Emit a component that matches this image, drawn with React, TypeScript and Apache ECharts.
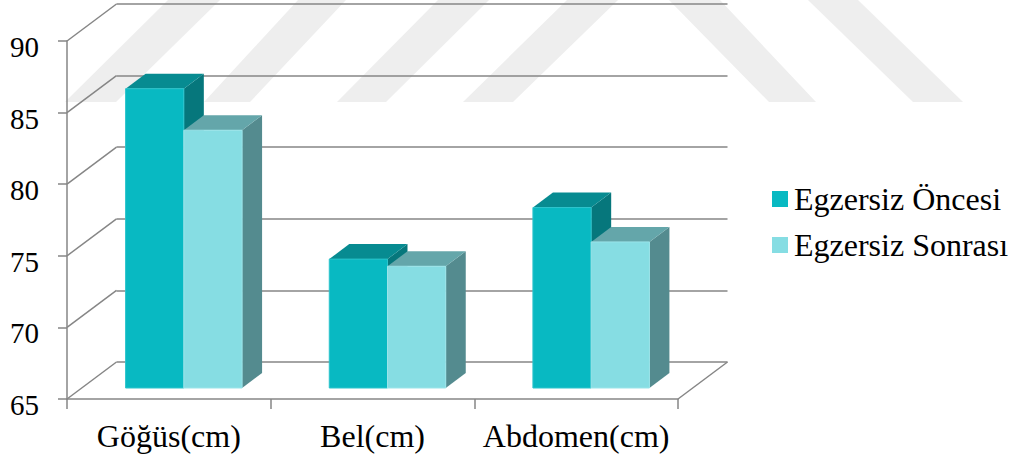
import React, { useEffect, useRef } from "react";
import * as echarts from "echarts";

const categories = ["Göğüs(cm)", "Bel(cm)", "Abdomen(cm)"];
const seriesNames = ["Egzersiz Öncesi", "Egzersiz Sonrası"];
const beforeValues = [85.9, 74.0, 77.6];
const afterValues = [83.0, 73.5, 75.2];
const yTicks = [65, 70, 75, 80, 85, 90];

const FONT = "Liberation Serif";
const LINE = "#868686";

// Offset of the back wall from the front plane, and of the bars inside the box.
const WALL_DX = 49.5;
const WALL_DY = -37;
const BAR_DX = 15;
const BAR_DY = -11;
const DEPTH_DX = 20;
const DEPTH_DY = -15;
const BAR_SHARE = 0.286;

const PALETTES = [
  { front: "#08B9C2", top: "#078B91", side: "#06777C", edge: "#2CC4CC" },
  { front: "#86DDE3", top: "#64A6AA", side: "#548B8F", edge: "#9BE4E9" },
];

// Background stripes as [bottom-left, bottom-right, top-right, top-left] x positions.
const STRIPE_BOTTOM = 102;
const stripes = [
  [65, 116, 220, 168],
  [204, 250, 346, 298],
  [337, 386, 489, 438],
  [463, 513, 618, 567],
  [769, 816, 720, 669],
  [913, 963, 858, 808],
];

function barBox(seriesIndex: number) {
  const palette = PALETTES[seriesIndex];
  return (_params: any, api: any) => {
    const cat = api.value(0);
    const top = api.coord([cat, api.value(1)]);
    const base = api.coord([cat, yTicks[0]]);
    const width = api.size([1, 0])[0] * BAR_SHARE;
    const x0 = top[0] + BAR_DX + (seriesIndex - 1) * width;
    const x1 = x0 + width;
    const yTop = top[1] + BAR_DY;
    const yBase = base[1] + BAR_DY;
    return {
      type: "group",
      children: [
        {
          type: "polygon",
          shape: {
            points: [
              [x1, yTop],
              [x1 + DEPTH_DX, yTop + DEPTH_DY],
              [x1 + DEPTH_DX, yBase + DEPTH_DY],
              [x1, yBase],
            ],
          },
          style: { fill: palette.side },
        },
        {
          type: "polygon",
          shape: {
            points: [
              [x0, yTop],
              [x0 + DEPTH_DX, yTop + DEPTH_DY],
              [x1 + DEPTH_DX, yTop + DEPTH_DY],
              [x1, yTop],
            ],
          },
          style: { fill: palette.top },
        },
        {
          type: "rect",
          shape: { x: x0, y: yTop, width, height: yBase - yTop },
          style: { fill: palette.front, stroke: palette.edge, lineWidth: 1 },
        },
      ],
    };
  };
}

// Slanted wall and floor lines that join the front plane to the back wall.
function wallLine(params: any, api: any) {
  const p = api.coord([0, api.value(0)]);
  const x = params.coordSys.x;
  return {
    type: "line",
    shape: { x1: x, y1: p[1], x2: x + WALL_DX, y2: p[1] + WALL_DY },
    style: { stroke: LINE, lineWidth: 1.5 },
  };
}

function floorEdge(params: any, api: any) {
  const { x, width } = params.coordSys;
  const p = api.coord([0, yTicks[0]]);
  return {
    type: "line",
    shape: { x1: x + width, y1: p[1], x2: x + width + WALL_DX, y2: p[1] + WALL_DY },
    style: { stroke: LINE, lineWidth: 1.5 },
  };
}

export default function App() {
  const ref = useRef<HTMLDivElement>(null);

  useEffect(() => {
    const chart = echarts.init(ref.current!, null, { renderer: "svg" });
    chart.setOption({
      animation: false,
      backgroundColor: "#fff",
      graphic: stripes.map((s) => ({
        type: "polygon",
        silent: true,
        z: -10,
        shape: {
          points: [
            [s[0], STRIPE_BOTTOM],
            [s[1], STRIPE_BOTTOM],
            [s[2], 0],
            [s[3], 0],
          ],
        },
        style: { fill: "#EEEEEE" },
      })),
      legend: {
        orient: "vertical",
        left: 767,
        top: 178,
        icon: "rect",
        itemWidth: 16,
        itemHeight: 16,
        itemGap: 14,
        data: seriesNames,
        textStyle: { fontFamily: FONT, fontSize: 32, color: "#000", padding: [0, 0, 0, 1] },
      },
      grid: [
        { left: 67, right: 339, top: 41, bottom: 63 },
        { left: 116.5, right: 289.5, top: 4, bottom: 100 },
      ],
      xAxis: [
        {
          type: "category",
          gridIndex: 0,
          data: categories,
          axisLine: { lineStyle: { color: LINE, width: 1.5 } },
          axisTick: { show: true, alignWithLabel: false, length: 10, lineStyle: { color: LINE, width: 1.5 } },
          axisLabel: { interval: 0, fontFamily: FONT, fontSize: 32, color: "#000", margin: 21 },
        },
        { type: "category", gridIndex: 1, data: categories, show: false },
      ],
      yAxis: [
        {
          type: "value",
          gridIndex: 0,
          min: 65,
          max: 90,
          interval: 5,
          splitLine: { show: false },
          axisLine: { show: true, lineStyle: { color: LINE, width: 1.5 } },
          axisTick: { show: true, length: 9, lineStyle: { color: LINE, width: 1.5 } },
          axisLabel: {
            fontFamily: FONT,
            fontSize: 29,
            color: "#000",
            margin: 28,
            verticalAlign: "top",
            lineHeight: 12,
          },
        },
        {
          type: "value",
          gridIndex: 1,
          min: 65,
          max: 90,
          interval: 5,
          axisLine: { show: false },
          axisTick: { show: false },
          axisLabel: { show: false },
          splitLine: { show: true, lineStyle: { color: LINE, width: 1.5 } },
        },
      ],
      series: [
        {
          type: "custom",
          name: "walls",
          xAxisIndex: 0,
          yAxisIndex: 0,
          clip: false,
          silent: true,
          z: 1,
          data: yTicks.map((t) => [t]),
          encode: { y: 0 },
          renderItem: wallLine,
        },
        {
          type: "custom",
          name: "floor",
          xAxisIndex: 0,
          yAxisIndex: 0,
          clip: false,
          silent: true,
          z: 1,
          data: [[yTicks[0]]],
          encode: { y: 0 },
          renderItem: floorEdge,
        },
        {
          type: "custom",
          name: seriesNames[0],
          xAxisIndex: 0,
          yAxisIndex: 0,
          clip: false,
          z: 3,
          itemStyle: { color: PALETTES[0].front },
          data: beforeValues.map((v, i) => [i, v]),
          encode: { x: 0, y: 1 },
          renderItem: barBox(0),
        },
        {
          type: "custom",
          name: seriesNames[1],
          xAxisIndex: 0,
          yAxisIndex: 0,
          clip: false,
          z: 4,
          itemStyle: { color: PALETTES[1].front },
          data: afterValues.map((v, i) => [i, v]),
          encode: { x: 0, y: 1 },
          renderItem: barBox(1),
        },
      ],
    });
    return () => chart.dispose();
  }, []);

  return (
    <div
      ref={ref}
      style={{ position: "absolute", left: 0, top: 0, width: 1017, height: 462 }}
    />
  );
}
